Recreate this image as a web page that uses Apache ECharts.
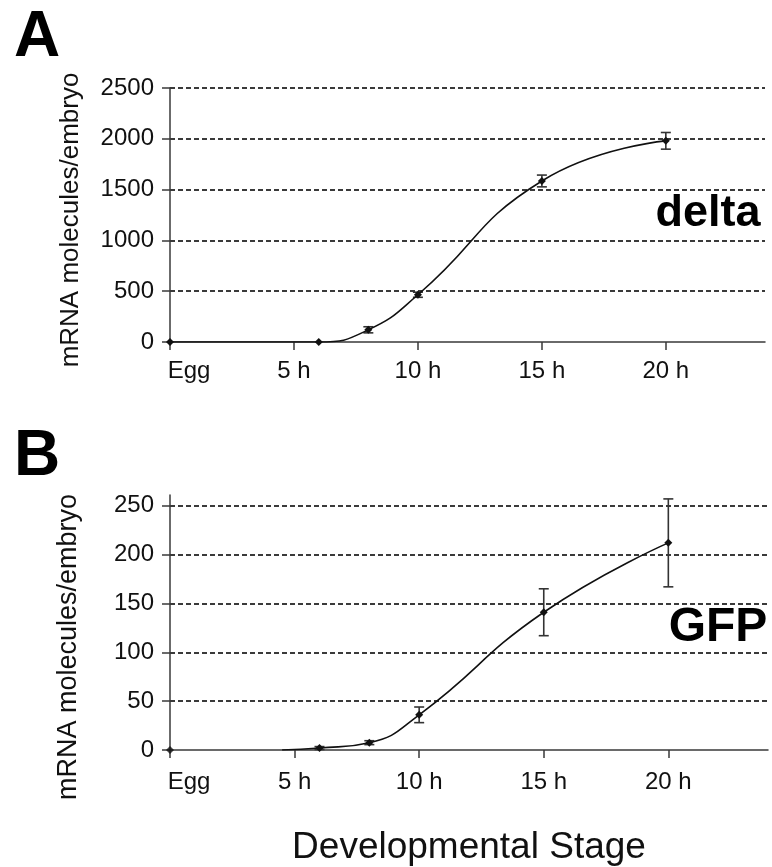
<!DOCTYPE html>
<html>
<head>
<meta charset="utf-8">
<script src="https://cdn.jsdelivr.net/npm/echarts@6/dist/echarts.min.js"></script>
<style>
  html, body { margin: 0; padding: 0; background: #fff; }
  #chart { width: 772px; height: 867px; }
</style>
</head>
<body>
<div id="chart"></div>
<script>
// hours after egg laying; 0 = "Egg"
const tickHours = [0, 5, 10, 15, 20];
const tickNames = ['Egg', '5 h', '10 h', '15 h', '20 h'];

// panel A: delta
const deltaHours = [0, 6, 8, 10, 15, 20];
const deltaMean  = [0, 0, 120, 465, 1585, 1980];
const deltaErr   = [0, 0, 30, 25, 58, 82];
const deltaTicks = [0, 500, 1000, 1500, 2000, 2500];

// panel B: GFP (curve visibly starts at ~4.5 h, egg point stands alone)
const gfpEggHour = 0;
const gfpEggMean = 0;
const gfpHours = [4.5, 6, 8, 10, 15, 20];
const gfpMean  = [0, 2, 7.5, 36, 141, 212];
const gfpErr   = [0, 1.5, 2, 8, 24, 45];
const gfpTicks = [0, 50, 100, 150, 200, 250];

const FONT = "'Liberation Sans', Arial, sans-serif";
const INK = '#111';
const AXIS = '#3a3a3a';

const pairs = (xs, ys) => xs.map((x, i) => [x, ys[i]]);
const bars = (xs, ys, es) => xs.map((x, i) => [x, ys[i] - es[i], ys[i] + es[i]]).filter((d, i) => es[i] > 0);

const chart = echarts.init(document.getElementById('chart'));

function xAxisFor(gridIndex, margin) {
  return {
    type: 'value', gridIndex, min: 0, max: 24,
    axisLine: { lineStyle: { color: AXIS, width: 1.5 } },
    axisTick: { show: true, length: 8, lineStyle: { color: AXIS, width: 1.5 }, customValues: tickHours },
    splitLine: { show: false },
    axisLabel: {
      customValues: tickHours, margin, color: INK, fontFamily: FONT, fontSize: 24,
      formatter: v => {
        const i = tickHours.indexOf(v);
        if (i < 0) return '';
        return i === 0 ? '{egg|' + tickNames[i] + '}' : tickNames[i];
      },
      rich: { egg: { fontFamily: FONT, fontSize: 24, color: INK, padding: [0, 0, 0, 38] } }
    }
  };
}

function yAxisFor(gridIndex, max, ticks) {
  return {
    type: 'value', gridIndex, min: 0, max,
    axisLine: { show: true, lineStyle: { color: AXIS, width: 1.5 } },
    axisTick: { show: true, length: 8, lineStyle: { color: AXIS, width: 1.5 }, customValues: ticks },
    splitLine: {
      show: true, showMinLine: false, showMaxLine: true,
      lineStyle: { color: AXIS, width: 1.8, type: [5, 3] }
    },
    axisLabel: {
      customValues: ticks, margin: 16, color: INK, fontFamily: FONT, fontSize: 24,
      formatter: v => String(v)
    }
  };
}

function errorSeries(xi, yi, data) {
  return {
    type: 'custom', xAxisIndex: xi, yAxisIndex: yi, data, z: 3,
    renderItem: (params, api) => {
      const lo = api.coord([api.value(0), api.value(1)]);
      const hi = api.coord([api.value(0), api.value(2)]);
      const w = 5;
      const style = { stroke: '#333', lineWidth: 1.6 };
      return {
        type: 'group',
        children: [
          { type: 'line', shape: { x1: lo[0], y1: lo[1], x2: hi[0], y2: hi[1] }, style },
          { type: 'line', shape: { x1: lo[0] - w, y1: lo[1], x2: lo[0] + w, y2: lo[1] }, style },
          { type: 'line', shape: { x1: hi[0] - w, y1: hi[1], x2: hi[0] + w, y2: hi[1] }, style }
        ]
      };
    }
  };
}

const curveStyle = {
  type: 'line', smooth: 0.5, symbol: 'diamond', symbolSize: 8,
  itemStyle: { color: INK }, lineStyle: { color: INK, width: 1.6 }, z: 4
};

chart.setOption({
  animation: false,
  textStyle: { fontFamily: FONT },
  grid: [
    { left: 170, top: 88, width: 595, height: 254 },
    { left: 170, top: 495, width: 598, height: 255 }
  ],
  xAxis: [xAxisFor(0, 17), xAxisFor(1, 20)],
  yAxis: [yAxisFor(0, 2500, deltaTicks), yAxisFor(1, 261, gfpTicks)],
  series: [
    Object.assign({}, curveStyle, { xAxisIndex: 0, yAxisIndex: 0, data: pairs(deltaHours, deltaMean) }),
    errorSeries(0, 0, bars(deltaHours, deltaMean, deltaErr)),
    Object.assign({}, curveStyle, {
      xAxisIndex: 1, yAxisIndex: 1,
      data: pairs(gfpHours, gfpMean).map((d, i) => i === 0 ? { value: d, symbol: 'none' } : d)
    }),
    { type: 'scatter', xAxisIndex: 1, yAxisIndex: 1, symbol: 'diamond', symbolSize: 8,
      itemStyle: { color: INK }, z: 4, data: [[gfpEggHour, gfpEggMean]] },
    errorSeries(1, 1, bars(gfpHours, gfpMean, gfpErr))
  ],
  graphic: [
    { type: 'text', left: 14, top: 6, style: { text: 'A', font: 'bold 64px ' + FONT, fill: '#000' } },
    { type: 'text', left: 14, top: 425, style: { text: 'B', font: 'bold 64px ' + FONT, fill: '#000' } },
    { type: 'text', x: 71, y: 220, rotation: Math.PI / 2,
      style: { text: 'mRNA molecules/embryo', font: '26px ' + FONT, fill: INK, textAlign: 'center', textVerticalAlign: 'middle' } },
    { type: 'text', x: 69, y: 647, rotation: Math.PI / 2,
      style: { text: 'mRNA molecules/embryo', font: '27px ' + FONT, fill: INK, textAlign: 'center', textVerticalAlign: 'middle' } },
    { type: 'text', x: 708, y: 214,
      style: { text: 'delta', font: 'bold 45px ' + FONT, fill: '#000', textAlign: 'center', textVerticalAlign: 'middle' } },
    { type: 'text', x: 718, y: 628,
      style: { text: 'GFP', font: 'bold 48px ' + FONT, fill: '#000', textAlign: 'center', textVerticalAlign: 'middle' } },
    { type: 'text', x: 469, y: 848,
      style: { text: 'Developmental Stage', font: '37px ' + FONT, fill: INK, textAlign: 'center', textVerticalAlign: 'middle' } }
  ]
});
</script>
</body>
</html>
